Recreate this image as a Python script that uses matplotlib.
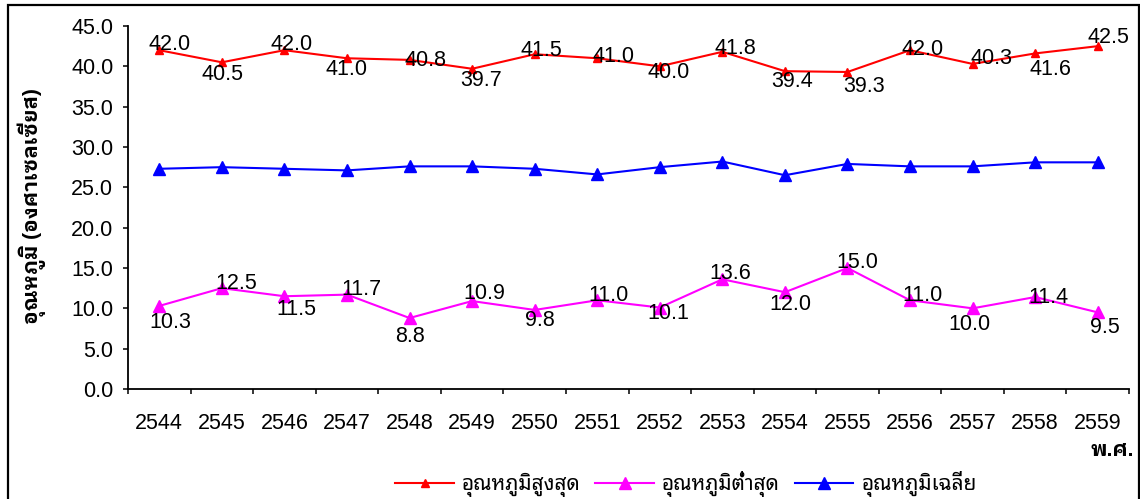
import matplotlib
matplotlib.use("Agg")
import matplotlib.pyplot as plt
from matplotlib.lines import Line2D
from matplotlib.patches import Rectangle
import numpy as np

years = ["2544", "2545", "2546", "2547", "2548", "2549", "2550", "2551",
         "2552", "2553", "2554", "2555", "2556", "2557", "2558", "2559"]
t_max = [42.0, 40.5, 42.0, 41.0, 40.8, 39.7, 41.5, 41.0, 40.0, 41.8, 39.4, 39.3, 42.0, 40.3, 41.6, 42.5]
t_min = [10.3, 12.5, 11.5, 11.7, 8.8, 10.9, 9.8, 11.0, 10.1, 13.6, 12.0, 15.0, 11.0, 10.0, 11.4, 9.5]
t_avg = [27.3, 27.5, 27.3, 27.1, 27.6, 27.6, 27.3, 26.6, 27.5, 28.2, 26.5, 27.9, 27.6, 27.6, 28.1, 28.1]
yticks = [0, 5, 10, 15, 20, 25, 30, 35, 40, 45]

name_max = "อุณหภูมิสูงสุด"
name_min = "อุณหภูมิต่ำสุด"
name_avg = "อุณหภูมิเฉลี่ย"
ylabel = "อุณหภูมิ (องศาเซลเซียส)"
xlabel = "พ.ศ."

# label offsets in pixels (dx right, dy down)
off_max = [(10, -6), (1, 12), (7, -6), (0, 11), (16, 1), (9, 12), (7, -4), (16, -2),
           (9, 6), (13, -3), (7, 10), (17, 15), (13, -1), (19, -5), (15, 16), (11, -9)]
off_min = [(11, 17), (14, -5), (12, 13), (14, -5), (0, 18), (12, -8), (5, 11), (11, -5),
           (9, 6), (8, -6), (5, 12), (10, -5), (12, -5), (-3, 16), (13, 0), (7, 15)]

NUM = ['Liberation Sans', 'DejaVu Sans']
THAI = ['Noto Sans Thai Looped', 'Liberation Sans', 'DejaVu Sans']
BOLD = ['Liberation Sans', 'IBM Plex Sans Thai Looped', 'DejaVu Sans']
FS = 15.5

W, H = 1140, 499
fig = plt.figure(figsize=(W / 100, H / 100), dpi=100)
ax = fig.add_axes([128 / W, 1 - 389 / H, 1001 / W, 363 / H])

x = np.arange(len(years))
ax.plot(x, t_max, color='#FF0000', lw=1.5, marker='^', ms=6, zorder=3)
ax.plot(x, t_min, color='#FF00FF', lw=1.5, marker='^', ms=9, zorder=3)
ax.plot(x, t_avg, color='#0000FF', lw=1.5, marker='^', ms=9, zorder=3)

for xi, v, (dx, dy) in zip(x, t_max, off_max):
    ax.annotate(f"{v:.1f}", (xi, v), xytext=(dx, -dy), textcoords='offset pixels',
                ha='center', va='center', fontsize=FS, family=NUM, color='black', zorder=4)
for xi, v, (dx, dy) in zip(x, t_min, off_min):
    ax.annotate(f"{v:.1f}", (xi, v), xytext=(dx, -dy), textcoords='offset pixels',
                ha='center', va='center', fontsize=FS, family=NUM, color='black', zorder=4)

ax.set_xlim(-0.5, len(years) - 0.5)
ax.set_ylim(0, 45)
ax.set_yticks(yticks)
ax.set_yticklabels([f"{v:.1f}" for v in yticks], family=NUM, fontsize=FS)
ax.set_xticks(x)
ax.set_xticklabels(years, family=NUM, fontsize=FS)
ax.set_xticks(np.arange(len(years) + 1) - 0.5, minor=True)
ax.tick_params(axis='x', which='major', length=0, pad=17)
ax.tick_params(axis='x', which='minor', length=3.6, width=1.1, direction='out')
ax.tick_params(axis='y', length=3.6, width=1.1, direction='out', pad=7)
for s in ['top', 'right']:
    ax.spines[s].set_visible(False)
for s in ['left', 'bottom']:
    ax.spines[s].set_linewidth(1.3)
ax.patch.set_alpha(0)

fig.text(32 / W, 1 - 206 / H, ylabel, rotation=90, ha='center', va='center',
         fontsize=15, fontweight='bold', family=BOLD)
fig.text(1112 / W, 1 - 450 / H, xlabel, ha='center', va='center',
         fontsize=15, fontweight='bold', family=BOLD)

handles = [
    Line2D([], [], color='#FF0000', lw=1.5, marker='^', ms=6),
    Line2D([], [], color='#FF00FF', lw=1.5, marker='^', ms=9),
    Line2D([], [], color='#0000FF', lw=1.5, marker='^', ms=9),
]
fig.legend(handles, [name_max, name_min, name_avg], loc='center',
           bbox_to_anchor=(686 / W, 1 - 484 / H), ncol=3, frameon=False,
           prop={'family': THAI, 'size': 15}, handlelength=2.8, handletextpad=0.4,
           columnspacing=0.7, borderaxespad=0, borderpad=0)

fig.add_artist(Rectangle((8 / W, -0.02), (1138.5 - 8) / W, 1.02 - 5 / H,
                         transform=fig.transFigure, fill=False, ec='black', lw=1.6))

fig.savefig("out.png", dpi=100)
